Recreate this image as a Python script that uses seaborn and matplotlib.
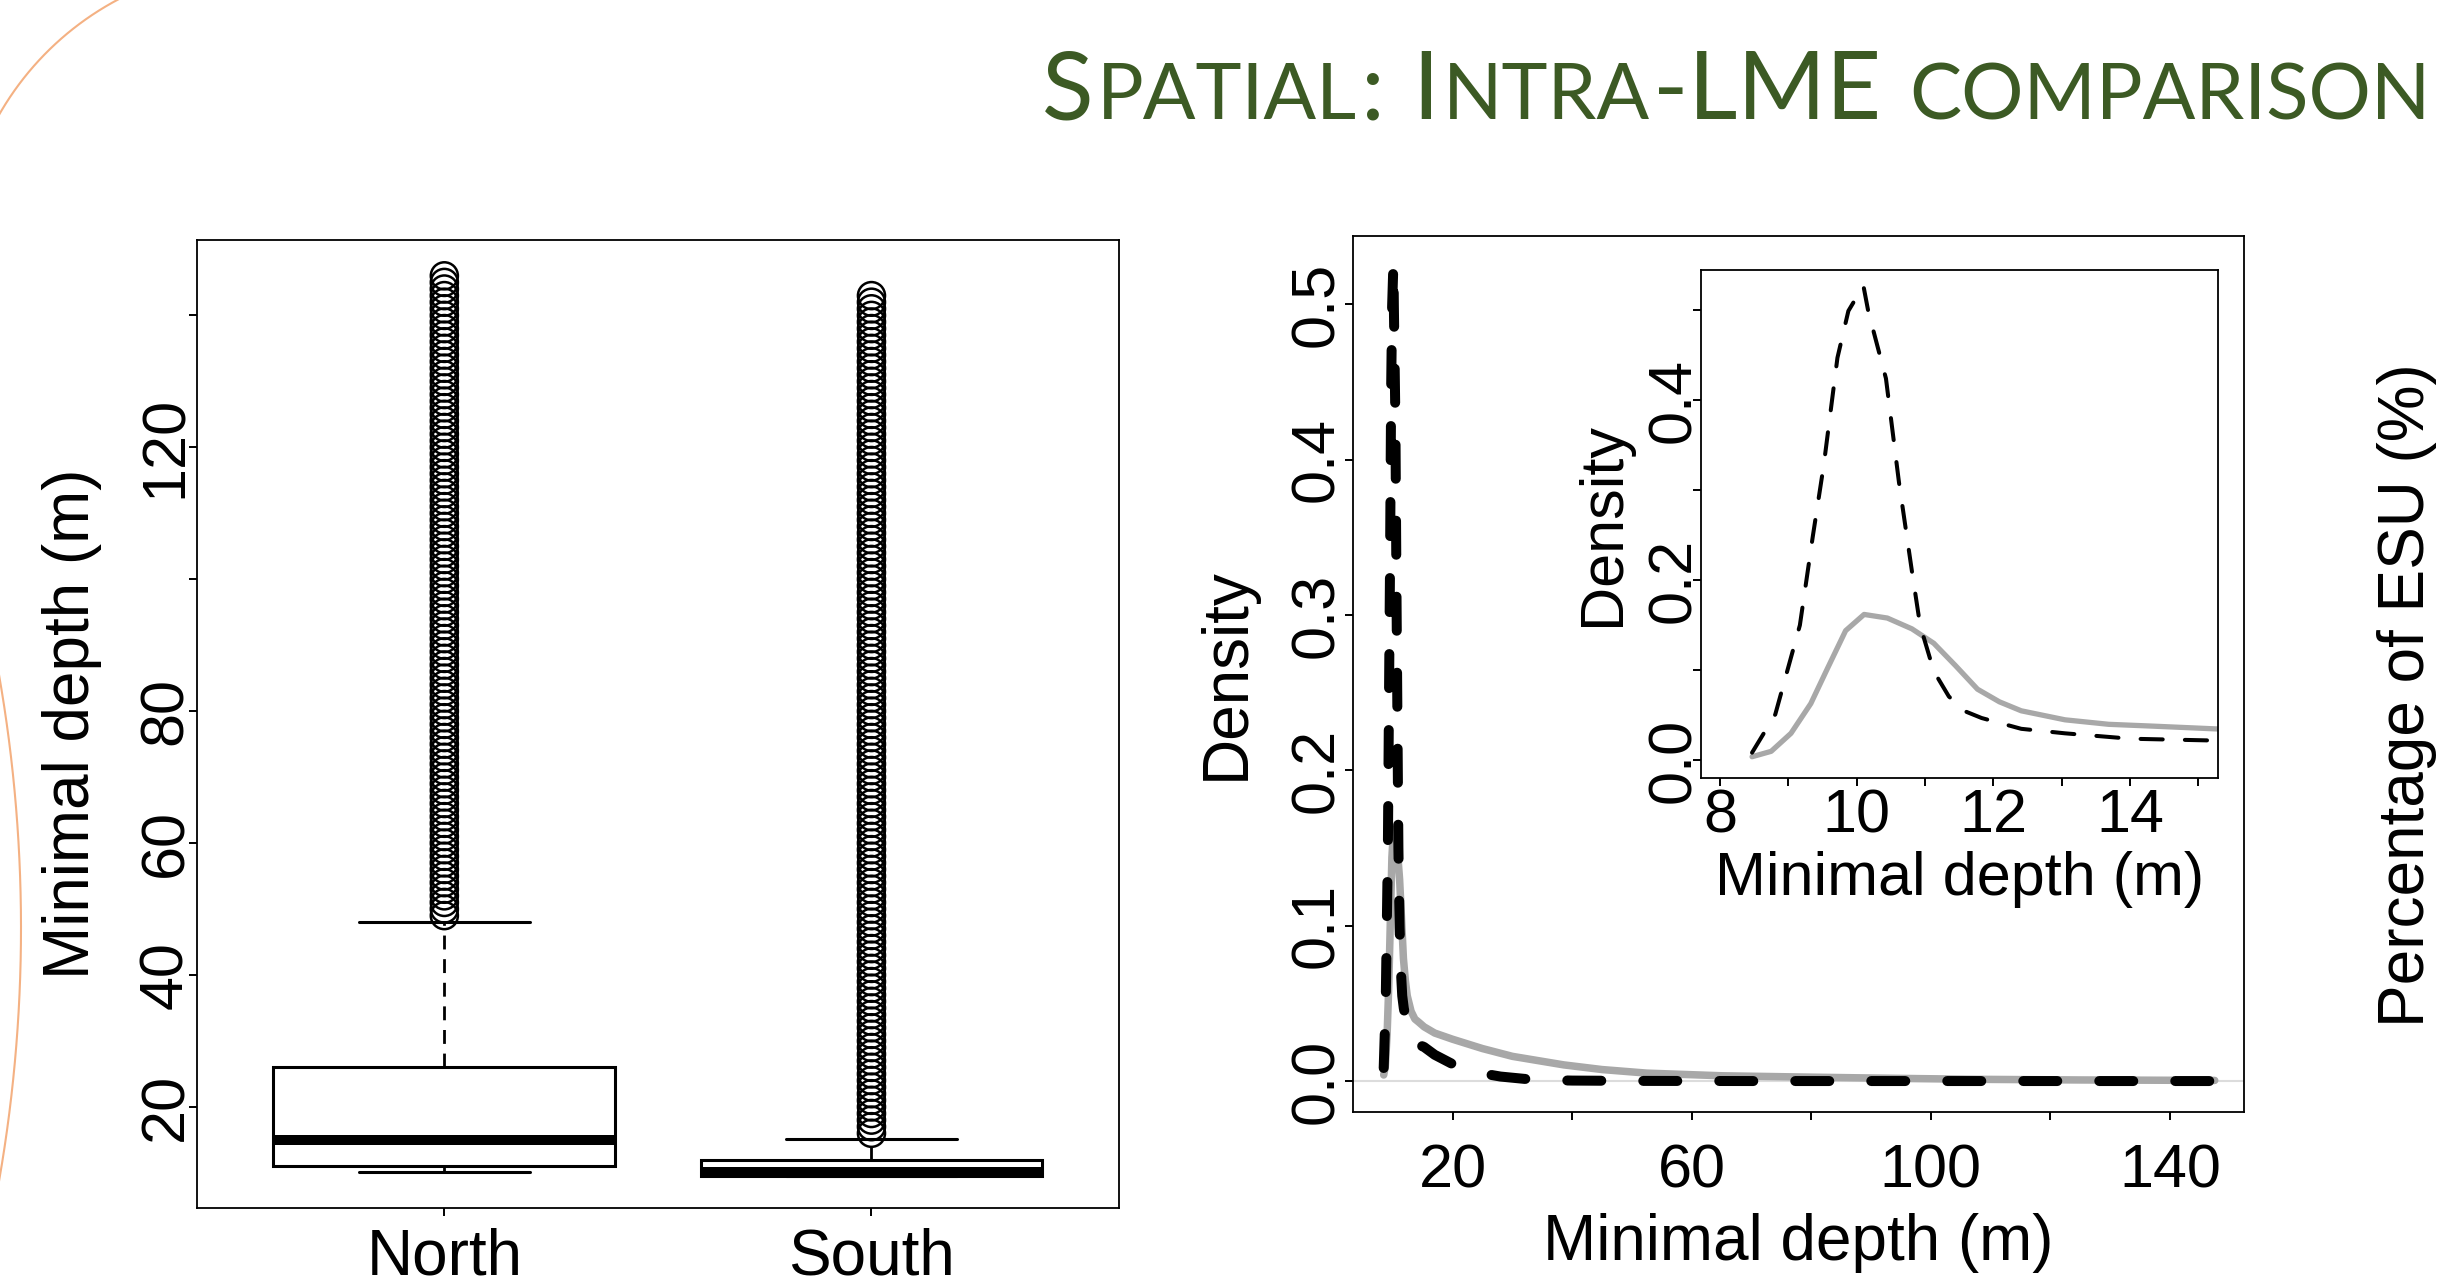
import matplotlib
matplotlib.use("Agg")
import matplotlib.pyplot as plt
from matplotlib.transforms import IdentityTransform
import numpy as np
import pandas as pd
import seaborn as sns

# ---------------- data ----------------
regions = ["North", "South"]
# five-number summaries: min (lower whisker), Q1, median, Q3, upper whisker
north_box = [10.2, 11.1, 15.0, 26.1, 48.1]
south_box = [9.5, 9.6, 10.2, 11.9, 15.1]
# outlying depths (dense columns of open circles)
north_outliers = [49, 50, 51, 52, 53, 54, 55, 56, 57, 58,
                  59, 60, 61, 62, 63, 64, 65, 66, 67, 68,
                  69, 70, 71, 72, 73, 74, 75, 76, 77, 78,
                  79, 80, 81, 82, 83, 84, 85, 86, 87, 88,
                  89, 90, 91, 92, 93, 94, 95, 96, 97, 98,
                  99, 100, 101, 102, 103, 104, 105, 106, 107, 108,
                  109, 110, 111, 112, 113, 114, 115, 116, 117, 118,
                  119, 120, 121, 122, 123, 124, 125, 126, 127, 128,
                  129, 130, 131, 132, 133, 134, 135, 136, 137, 138,
                  139, 140, 141, 142, 143, 144, 145, 146]
south_outliers = [16, 17, 18, 19, 20, 21, 22, 23, 24, 25,
                  26, 27, 28, 29, 30, 31, 32, 33, 34, 35,
                  36, 37, 38, 39, 40, 41, 42, 43, 44, 45,
                  46, 47, 48, 49, 50, 51, 52, 53, 54, 55,
                  56, 57, 58, 59, 60, 61, 62, 63, 64, 65,
                  66, 67, 68, 69, 70, 71, 72, 73, 74, 75,
                  76, 77, 78, 79, 80, 81, 82, 83, 84, 85,
                  86, 87, 88, 89, 90, 91, 92, 93, 94, 95,
                  96, 97, 98, 99, 100, 101, 102, 103, 104, 105,
                  106, 107, 108, 109, 110, 111, 112, 113, 114, 115,
                  116, 117, 118, 119, 120, 121, 122, 123, 124, 125,
                  126, 127, 128, 129, 130, 131, 132, 133, 134, 135,
                  136, 137, 138, 139, 140, 141, 142, 143]

# density curves (gray solid = North, black dashed = South)
north_density_x = [8.47, 8.75, 9.04, 9.33, 9.58, 9.84, 10.11, 10.45, 10.81, 11.13,
                   11.45, 11.77, 12.09, 12.41, 13.05, 13.69, 14.33, 15.23, 17.0, 20.0,
                   25.0, 30.0, 38.6, 45.0, 52.5, 65.0, 80.0, 95.0, 108.0, 125.0, 147.5]
north_density_y = [0.004, 0.010, 0.030, 0.063, 0.103, 0.144, 0.162, 0.158, 0.146, 0.130,
                   0.105, 0.079, 0.065, 0.055, 0.045, 0.040, 0.038, 0.035, 0.031, 0.027,
                   0.021, 0.016, 0.0105, 0.0075, 0.0052, 0.0035, 0.0026, 0.0018, 0.0012, 0.0008, 0.0005]
south_density_x = [8.47, 8.81, 9.17, 9.36, 9.52, 9.72, 9.88, 10.10, 10.17, 10.43,
                   10.62, 10.81, 10.93, 11.13, 11.35, 11.57, 11.83, 12.41, 13.05, 14.01,
                   15.23, 17.0, 20.0, 22.0, 25.0, 28.0, 32.0, 35.0, 40.0, 50.0,
                   70.0, 100.0, 147.5]
south_density_y = [0.0085, 0.051, 0.150, 0.249, 0.328, 0.447, 0.499, 0.527, 0.499, 0.424,
                   0.309, 0.210, 0.150, 0.099, 0.071, 0.055, 0.047, 0.035, 0.030, 0.024,
                   0.022, 0.017, 0.011, 0.008, 0.005, 0.003, 0.0015, 0.0008, 0.0004, 0.0002,
                   0.0001, 0.0001, 0.0001]

box_yticks = [20, 40, 60, 80, 100, 120, 140]
box_yticklabels = ["20", "40", "60", "80", "", "120", ""]
dens_xticks = [20, 40, 60, 80, 100, 120, 140]
dens_xticklabels = ["20", "", "60", "", "100", "", "140"]
dens_yticks = [0.0, 0.1, 0.2, 0.3, 0.4, 0.5]
dens_yticklabels = ["0.0", "0.1", "0.2", "0.3", "0.4", "0.5"]
inset_xticks = [8, 9, 10, 11, 12, 13, 14, 15]
inset_xticklabels = ["8", "", "10", "", "12", "", "14", ""]
inset_yticklabels = ["0.0", "", "0.2", "", "0.4", ""]

title_runs = [("S", "big"), ("PATIAL", "small"), (":", "big"), ("I", "big"),
              ("NTRA", "small"), ("-LME", "big"), ("COMPARISON", "small")]
space_after = [False, False, True, False, False, True, False]

# ---------------- style ----------------
sns.set_theme(style="ticks")
plt.rcParams["font.family"] = ["Liberation Sans", "DejaVu Sans"]
plt.rcParams["axes.edgecolor"] = "black"
plt.rcParams["axes.linewidth"] = 1.3
plt.rcParams["xtick.color"] = "black"
plt.rcParams["ytick.color"] = "black"
plt.rcParams["text.color"] = "black"
plt.rcParams["axes.labelcolor"] = "black"

W, H = 2447, 1288
fig = plt.figure(figsize=(W / 100, H / 100), dpi=100)
fig.patch.set_facecolor("white")

def px_axes(left, top, right, bottom):
    return [left / W, 1 - bottom / H, (right - left) / W, (bottom - top) / H]

TICK_LEN = 6.1
TICK_W = 1.4
TICK_FS = 44
LAB_FS = 46

# ---------------- decorative slide arcs ----------------
ax_bg = fig.add_axes([0, 0, 1, 1], zorder=-5)
ax_bg.set_xlim(0, W)
ax_bg.set_ylim(H, 0)
ax_bg.axis("off")
t1 = np.radians(np.linspace(-108, -168, 200))
ax_bg.plot(257 + 297 * np.cos(t1), 262 + 297 * np.sin(t1), color="#F4B183", lw=1.5)
t2 = np.radians(np.linspace(-11, 11, 200))
ax_bg.plot(-1448 + 1469 * np.cos(t2), 928 + 1469 * np.sin(t2), color="#F4B183", lw=1.5)

# ---------------- left panel: boxplot ----------------
ax1 = fig.add_axes(px_axes(196.6, 240.4, 1119.2, 1207.7))
box_df = pd.DataFrame({"Region": ["North"] * len(north_box) + ["South"] * len(south_box),
                       "Depth": north_box + south_box})
sns.boxplot(data=box_df, x="Region", y="Depth", order=regions, ax=ax1,
            width=0.8, whis=1.5, showfliers=False, color="white", saturation=1,
            linecolor="black", linewidth=2.2,
            medianprops=dict(linewidth=7.2, color="black", solid_capstyle="butt"),
            whiskerprops=dict(linestyle=(0, (5, 3.5)), linewidth=2.0),
            capprops=dict(linewidth=2.2))
out_df = pd.DataFrame({"Region": ["North"] * len(north_outliers) + ["South"] * len(south_outliers),
                       "Depth": north_outliers + south_outliers})
sns.stripplot(data=out_df, x="Region", y="Depth", order=regions, ax=ax1, jitter=False,
              marker="o", size=19.5, facecolor="none", edgecolor="black", linewidth=1.8,
              zorder=4)
ax1.set_xlim(-0.58, 1.58)
ax1.set_ylim(4.72, 151.37)
ax1.set_yticks(box_yticks)
ax1.set_yticklabels(box_yticklabels)
ax1.set_xlabel("")
ax1.set_ylabel("Minimal depth (m)", fontsize=LAB_FS)
ax1.yaxis.set_label_coords(-0.1025, 0.5)
ax1.tick_params(axis="both", length=TICK_LEN, width=TICK_W, labelsize=TICK_FS)
ax1.tick_params(axis="y", pad=-5, labelrotation=90)
ax1.tick_params(axis="x", pad=8, labelsize=46)
plt.setp(ax1.get_yticklabels(), va="center")
for s in ax1.spines.values():
    s.set_visible(True)
    s.set_linewidth(1.3)

# ---------------- right panel: density ----------------
ax2 = fig.add_axes(px_axes(1352.5, 236, 2244, 1111.5))
ax2.axhline(0, color="#DCDCDC", lw=1.5, zorder=0)
sns.lineplot(x=north_density_x, y=north_density_y, ax=ax2, color="#A8A8A8", linewidth=5.4,
             estimator=None, solid_capstyle="round", solid_joinstyle="round")
sns.lineplot(x=south_density_x, y=south_density_y, ax=ax2, color="black", linewidth=7.2,
             estimator=None, linestyle=(0, (3.4, 4.2)), dash_capstyle="round",
             dash_joinstyle="round")
ax2.set_xlim(3.25, 152.4)
ax2.set_ylim(-0.0195, 0.544)
ax2.set_xticks(dens_xticks)
ax2.set_xticklabels(dens_xticklabels)
ax2.set_yticks(dens_yticks)
ax2.set_yticklabels(dens_yticklabels)
ax2.set_xlabel("Minimal depth (m)", fontsize=LAB_FS)
ax2.set_ylabel("Density", fontsize=LAB_FS)
ax2.xaxis.set_label_coords(0.5, -0.116)
ax2.yaxis.set_label_coords(-0.1074, 0.5)
ax2.tick_params(axis="both", length=TICK_LEN, width=TICK_W, labelsize=TICK_FS)
ax2.tick_params(axis="y", pad=-1.7, labelrotation=90)
ax2.tick_params(axis="x", pad=17)
plt.setp(ax2.get_yticklabels(), va="center")
for s in ax2.spines.values():
    s.set_visible(True)
    s.set_linewidth(1.3)

# ---------------- inset ----------------
ax3 = fig.add_axes(px_axes(1700.8, 270.4, 2218, 777.9))
ax3.set_zorder(ax2.get_zorder() + 1)
ax3.set_facecolor("white")
sns.lineplot(x=north_density_x, y=north_density_y, ax=ax3, color="#A8A8A8", linewidth=3.8,
             estimator=None, solid_capstyle="round", solid_joinstyle="round")
sns.lineplot(x=south_density_x, y=south_density_y, ax=ax3, color="black", linewidth=2.9,
             estimator=None, linestyle=(0, (5.5, 5.5)), dash_capstyle="round",
             dash_joinstyle="round")
ax3.set_xlim(7.72, 15.29)
ax3.set_ylim(-0.0195, 0.544)
ax3.set_xticks(inset_xticks)
ax3.set_xticklabels(inset_xticklabels)
ax3.set_yticks(dens_yticks)
ax3.set_yticklabels(inset_yticklabels)
ax3.set_xlabel("Minimal depth (m)", fontsize=44)
ax3.set_ylabel("Density", fontsize=44)
ax3.xaxis.set_label_coords(0.5, -0.144)
ax3.yaxis.set_label_coords(-0.133, 0.5)
ax3.tick_params(axis="both", length=TICK_LEN, width=TICK_W, labelsize=TICK_FS)
ax3.tick_params(axis="y", pad=-8, labelrotation=90)
ax3.tick_params(axis="x", pad=1.5)
plt.setp(ax3.get_yticklabels(), va="center")
for s in ax3.spines.values():
    s.set_visible(True)
    s.set_linewidth(1.3)

# ---------------- cut-off label of the next panel ----------------
fig.text(2377 / W, 1 - 695 / H, "Percentage of ESU (%)", rotation=90,
         ha="left", va="center", fontsize=LAB_FS)

# ---------------- small-caps title ----------------
renderer = fig.canvas.get_renderer()
title_color = "#3C5A24"
big_pt, small_pt = 72.9, 59.6
def layout_title(big, small):
    items = []
    for txt, kind in title_runs:
        t = fig.text(0, 0, txt, fontsize=big if kind == "big" else small,
                     family=["Lato", "DejaVu Sans"], color=title_color,
                     transform=IdentityTransform(), va="baseline", ha="left")
        items.append(t)
    widths = [t.get_window_extent(renderer).width for t in items]
    return items, widths

items, widths = layout_title(big_pt, small_pt)
gap = 0.06 * small_pt
space = 0.26 * big_pt * 100 / 72
total = sum(widths) + gap * (len(items) - 1) + space * sum(space_after)
target = 2431 - 1041
f = target / total
for t in items:
    t.remove()
items, widths = layout_title(big_pt * f, small_pt * f)
gap *= f
space *= f
x = 2431 - (sum(widths) + gap * (len(items) - 1) + space * sum(space_after))
for t, w, sp in zip(items, widths, space_after):
    t.set_position((x, H - 119.3))
    x += w + gap + (space if sp else 0)

fig.savefig("out.png", dpi=100, facecolor="white")
